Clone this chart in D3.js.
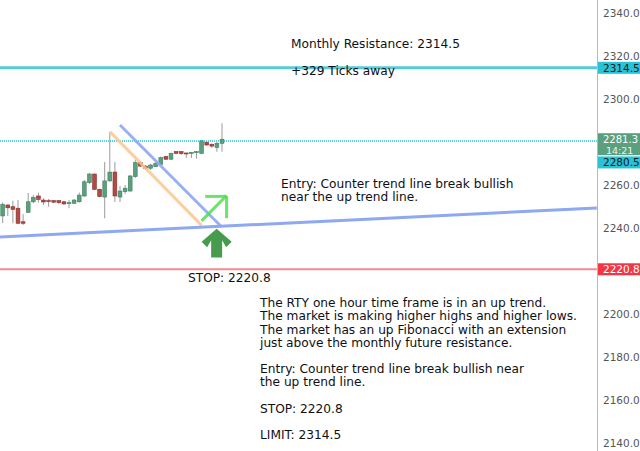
<!DOCTYPE html>
<html><head><meta charset="utf-8">
<script src="https://cdn.jsdelivr.net/npm/d3@7"></script>
<style>html,body{margin:0;padding:0;background:#fff;overflow:hidden}svg{display:block}</style>
</head><body>
<svg id="c" width="640" height="451"></svg>
<script>
// ---- data ----
const candleIndex = d3.range(44);
const opens  = [2245.6,2250.7,2249.9,2249.2,2242.9,2247.3,2252.2,2254.9,2253.0,2252.7,2252.7,2252.7,2252.2,2251.6,2251.5,2252.2,2254.9,2261.1,2265.1,2258.0,2254.4,2261.9,2266.0,2254.4,2256.9,2257.2,2263.9,2270.4,2268.8,2267.8,2268.5,2269.6,2273.2,2272.0,2275.5,2275.5,2274.9,2275.0,2275.1,2274.7,2279.9,2278.9,2277.5,2279.4];
const highs  = [2252.0,2251.0,2252.7,2253.0,2246.5,2256.3,2255.3,2256.4,2253.8,2253.5,2253.0,2253.0,2252.6,2253.0,2253.5,2256.5,2262.3,2265.6,2265.3,2258.3,2270.7,2284.7,2270.7,2259.5,2260.0,2264.7,2271.6,2271.2,2269.3,2269.8,2270.7,2273.2,2273.5,2275.1,2275.8,2275.8,2275.0,2275.4,2275.8,2281.0,2280.2,2279.4,2280.0,2288.7];
const lows   = [2242.3,2245.6,2242.2,2242.0,2241.4,2247.0,2251.5,2251.8,2250.7,2249.9,2251.5,2251.2,2250.7,2249.2,2251.2,2251.8,2254.4,2260.5,2257.7,2254.3,2244.5,2261.5,2252.1,2252.1,2255.8,2256.9,2263.3,2268.4,2267.0,2267.0,2268.4,2269.3,2271.6,2271.6,2274.4,2274.0,2272.6,2272.6,2272.3,2274.4,2278.3,2277.2,2275.5,2275.5];
const closes = [2251.0,2249.4,2248.7,2242.2,2242.2,2252.2,2254.3,2253.3,2252.1,2252.4,2252.0,2251.8,2251.2,2251.8,2253.0,2255.3,2261.5,2265.1,2258.0,2254.6,2261.9,2266.0,2254.9,2257.2,2258.5,2264.2,2270.4,2268.8,2267.8,2269.3,2270.1,2272.7,2272.0,2274.7,2274.7,2274.6,2274.8,2275.2,2275.5,2280.5,2278.6,2278.1,2279.4,2281.3];

// axis tick labels visible in the reference (2280.0 and 2220.0 are covered by price tags)
const priceTicks = [2140,2160,2180,2200,2240,2260,2300,2320,2340];
const resistance = 2314.5;
const stopLevel = 2220.8;
const lastPrice = 2281.3;
const markLevel = 2280.5;
const countdown = "14:21";

// trend lines as [index, price] pairs
const upTrend      = [[-0.53, 2235.8], [116.5, 2249.3]];
const counterTrend = [[23.0, 2287.9], [42.9, 2240.6]];
const fibLine      = [[21.04, 2284.7], [39.0, 2241.2]];
const entryArrow   = [[39.0, 2243.3], [43.9, 2255.1]];
const entryHeadH   = [[39.7, 2254.7], [43.9, 2254.7]];
const entryHeadV   = [[43.9, 2254.7], [43.9, 2244.6]];
const bigArrow     = {index: 41.95, tip: 2239.6, base: 2226.3};

const notes = [
  {x: 291, price: 2325.6, lines: ["Monthly Resistance: 2314.5"]},
  {x: 291, price: 2313.4, lines: ["+329 Ticks away"]},
  {x: 281, price: 2260.6, lines: ["Entry: Counter trend line break bullish", "near the up trend line."]},
  {x: 188, price: 2217.2, lines: ["STOP: 2220.8"]},
  {x: 260, price: 2205.3, lines: ["The RTY one hour time frame is in an up trend.","The market is making higher highs and higher lows.","The market has an up Fibonacci with an extension","just above the monthly future resistance.","","Entry: Counter trend line break bullish near","the up trend line.","","STOP: 2220.8","","LIMIT: 2314.5"]}
];

// ---- chart ----
const W = 640, H = 451, axisX = 597;
const svg = d3.select("#c");
const y = d3.scaleLinear().domain([2140, 2340]).range([443, 13]);
const x = d3.scaleLinear().domain([0, 43]).range([2.7, 222]);
const FONT = "DejaVu Sans, Verdana, sans-serif";

const plot = svg.append("g");
svg.append("clipPath").attr("id","pc").append("rect").attr("x",0).attr("y",0).attr("width",axisX).attr("height",H);
plot.attr("clip-path","url(#pc)");

const line = d3.line().x(d => x(d[0])).y(d => y(d[1]));

// horizontal levels
plot.append("line").attr("x1",0).attr("x2",axisX).attr("y1",y(resistance)).attr("y2",y(resistance))
  .attr("stroke","#56cbd7").attr("stroke-width",3);
plot.append("line").attr("x1",0).attr("x2",axisX).attr("y1",y(markLevel)).attr("y2",y(markLevel))
  .attr("stroke","#5fcfda").attr("stroke-width",2).attr("stroke-dasharray","1 1");
plot.append("line").attr("x1",0).attr("x2",axisX).attr("y1",y(stopLevel)).attr("y2",y(stopLevel))
  .attr("stroke","#f28a8f").attr("stroke-width",2);

// candles
const green = "#5aa07f", red = "#b04a44";
const cg = plot.append("g");
candleIndex.forEach(i => {
  const up = closes[i] >= opens[i];
  const col = up ? green : red;
  cg.append("line").attr("x1",x(i)).attr("x2",x(i)).attr("y1",y(highs[i])).attr("y2",y(lows[i]))
    .attr("stroke","#9a9a9a").attr("stroke-width",1);
  const top = y(Math.max(opens[i],closes[i])), bot = y(Math.min(opens[i],closes[i]));
  cg.append("rect").attr("x",x(i)-1.9).attr("width",3.8).attr("y",top).attr("height",Math.max(1,bot-top))
    .attr("fill",col).attr("stroke",up?"#3f7f60":"#8a302b").attr("stroke-width",0.6);
});

// trend lines
plot.append("path").attr("d",line(fibLine)).attr("stroke","#fbc58f").attr("stroke-width",3).attr("fill","none").attr("stroke-opacity",0.85);
plot.append("path").attr("d",line(counterTrend)).attr("stroke","#8ea8f2").attr("stroke-width",3).attr("fill","none").attr("stroke-opacity",0.9);
plot.append("path").attr("d",line(upTrend)).attr("stroke","#8ea8f2").attr("stroke-width",3).attr("fill","none");
[entryArrow, entryHeadH, entryHeadV].forEach(seg =>
  plot.append("path").attr("d",line(seg)).attr("stroke","#4fe04f").attr("stroke-width",3).attr("fill","none").attr("stroke-opacity",0.85));

// big up arrow
(function(){
  const cx = x(bigArrow.index), ty = y(bigArrow.tip), by = y(bigArrow.base);
  const hw = 15, sw = 5.5, hh = 13;
  const pts = [[cx,ty],[cx+hw,ty+hh],[cx+hw-5.5,ty+hh+5.5],[cx+sw,ty+hh-1.5],[cx+sw,by],[cx-sw,by],[cx-sw,ty+hh-1.5],[cx-hw+5.5,ty+hh+5.5],[cx-hw,ty+hh]];
  plot.append("polygon").attr("points",pts.map(p=>p.join(",")).join(" ")).attr("fill","#479b4c");
})();

// notes
notes.forEach(n => {
  const t = plot.append("text").attr("font-family",FONT).attr("font-size",12.2).attr("fill","#0e1014");
  n.lines.forEach((s,k) => {
    t.append("tspan").attr("x",n.x).attr("y",y(n.price) + 4.5 + k*13.2).text(s || " ");
  });
});

// right axis
svg.append("rect").attr("x",axisX).attr("y",0).attr("width",W-axisX).attr("height",H).attr("fill","#fff");
const ax = svg.append("g").attr("transform",`translate(${axisX},0)`)
  .call(d3.axisRight(y).tickValues(priceTicks).tickFormat(d => d.toFixed(1)).tickSize(0).tickPadding(6));
ax.select(".domain").attr("stroke","#b8b8b8").attr("d",`M0.5,0V${H}`);
ax.selectAll("text").attr("font-family",FONT).attr("font-size",10.5).attr("fill","#555");

// price labels
function label(price, text, bg, fg, dy){
  const cy = y(price) + (dy||0);
  svg.append("rect").attr("x",axisX+1).attr("y",cy-6).attr("width",W-axisX-1).attr("height",12).attr("fill",bg);
  svg.append("text").attr("x",axisX+6).attr("y",cy+4).attr("font-family",FONT).attr("font-size",10.5).attr("fill",fg).text(text);
}
label(resistance, resistance.toFixed(1), "#28c3d6", "#0d1b22");
label(stopLevel, stopLevel.toFixed(1), "#f23645", "#ffffff");
(function(){
  const cy = y(lastPrice);
  svg.append("rect").attr("x",axisX+1).attr("y",cy-6).attr("width",W-axisX-1).attr("height",22).attr("fill",green);
  svg.append("text").attr("x",axisX+6).attr("y",cy+3.5).attr("font-family",FONT).attr("font-size",10).attr("fill","#fff").text(lastPrice.toFixed(1));
  svg.append("text").attr("x",axisX+9).attr("y",cy+14.5).attr("font-family",FONT).attr("font-size",9.5).attr("fill","#e8f3ec").text(countdown);
})();
label(markLevel, markLevel.toFixed(1), "#28c3d6", "#0d1b22", 21.5);
</script>
</body></html>
